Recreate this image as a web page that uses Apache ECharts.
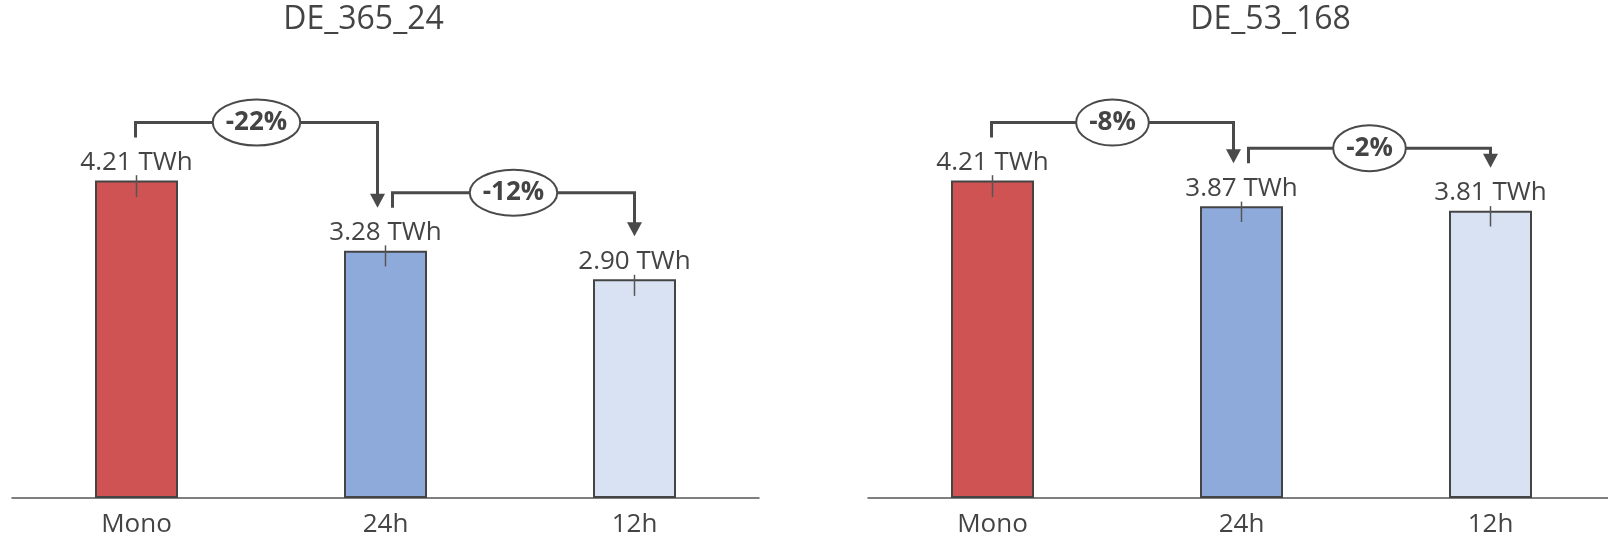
<!DOCTYPE html>
<html>
<head>
<meta charset="utf-8">
<script src="https://cdn.jsdelivr.net/npm/echarts@6/dist/echarts.min.js"></script>
<style>
  html, body { margin: 0; padding: 0; background: #fff; }
  #chart { width: 1608px; height: 536px; }
</style>
</head>
<body>
<div id="chart"></div>
<script>
// Scenario categories and panel titles
const categories = ['Mono', '24h', '12h'];
const titles = ['DE_365_24', 'DE_53_168'];

// Energy per scenario (TWh)
const energyA = [4.21, 3.28, 2.90];
const energyB = [4.21, 3.87, 3.81];

// Asymmetric error bars (TWh above / below the bar top)
const errUpA = [0.07, 0.07, 0.06];
const errDownA = [0.22, 0.21, 0.22];
const errUpB = [0.07, 0.06, 0.06];
const errDownB = [0.22, 0.21, 0.21];

// Step-change annotations: [from index, to index] and their labels
const stepsA = [[0, 1], [1, 2]];
const stepLabelsA = ['-22%', '-12%'];
const stepsB = [[0, 1], [1, 2]];
const stepLabelsB = ['-8%', '-2%'];

const barColors = ['#d05353', '#8eaadb', '#d9e2f3'];
const TEXT = '#444';
const LINE = '#4a4a4a';
const FONT = '"Open Sans", sans-serif';
const BADGE_FONT = 'bold 26px ' + FONT;

const measureCtx = document.createElement('canvas').getContext('2d');
function textWidth(text, font) {
  measureCtx.font = font;
  return measureCtx.measureText(text).width;
}

function errorBarRenderer(params, api) {
  const i = api.value(0), v = api.value(1), up = api.value(2), down = api.value(3);
  const top = api.coord([i, v + up]);
  const bottom = api.coord([i, v - down]);
  return {
    type: 'line',
    shape: { x1: top[0], y1: top[1], x2: bottom[0], y2: bottom[1] },
    style: { stroke: '#555', lineWidth: 1.5 }
  };
}

function stepRenderer(values, steps, labels) {
  const incoming = new Set(steps.map(s => s[1]));
  const outgoing = new Set(steps.map(s => s[0]));
  return function (params, api) {
    const from = steps[params.dataIndex][0];
    const to = steps[params.dataIndex][1];
    const p0 = api.coord([from, values[from]]);
    const p1 = api.coord([to, values[to]]);
    const x0 = p0[0] + (incoming.has(from) ? 7 : -1);
    const x1 = p1[0] - (outgoing.has(to) ? 8 : 0);
    const y0 = p0[1] - 43, yh = p0[1] - 58, y1 = p1[1] - 43;
    const ah = 14, aw = 7.5;
    const text = labels[params.dataIndex];
    const tw = textWidth(text, BADGE_FONT);
    const cx = (x0 + x1) / 2;
    return {
      type: 'group',
      children: [
        { type: 'polyline',
          shape: { points: [[x0, y0], [x0, yh], [x1, yh], [x1, y1 - ah + 1]] },
          style: { stroke: LINE, lineWidth: 3, fill: 'none' } },
        { type: 'polygon',
          shape: { points: [[x1 - aw, y1 - ah], [x1 + aw, y1 - ah], [x1, y1]] },
          style: { fill: LINE } },
        { type: 'ellipse',
          shape: { cx: cx, cy: yh, rx: tw / 2 + 13, ry: 23 },
          style: { fill: '#fff', stroke: LINE, lineWidth: 2 } },
        { type: 'text', x: cx, y: yh,
          style: { text: text, fill: TEXT, font: BADGE_FONT, align: 'center', verticalAlign: 'middle' } }
      ]
    };
  };
}

const grids = [], xAxes = [], yAxes = [], series = [];
function addPanel(idx, left, values, errUp, errDown, steps, stepLabels) {
  grids.push({ left: left, width: 747, top: 83.2, bottom: 38, outerBoundsMode: 'none', containLabel: false });
  xAxes.push({
    type: 'category', gridIndex: idx, data: categories,
    axisTick: { show: false },
    axisLine: { lineStyle: { color: '#555', width: 1.5 } },
    axisLabel: { fontSize: 26, color: TEXT, margin: 14, fontFamily: FONT }
  });
  yAxes.push({ type: 'value', gridIndex: idx, min: 0, max: 5.5, show: false });
  series.push({
    type: 'bar', xAxisIndex: idx, yAxisIndex: idx, barWidth: 83,
    data: values.map((v, i) => ({ value: v, itemStyle: { color: barColors[i] } })),
    itemStyle: { borderColor: '#444', borderWidth: 2 },
    label: {
      show: true, position: 'top', distance: 5,
      fontSize: 26, color: TEXT, fontFamily: FONT,
      formatter: p => p.value.toFixed(2) + ' TWh'
    },
    z: 2
  });
  series.push({
    type: 'custom', xAxisIndex: idx, yAxisIndex: idx,
    renderItem: errorBarRenderer,
    data: values.map((v, i) => [i, v, errUp[i], errDown[i]]),
    z: 3
  });
  series.push({
    type: 'custom', xAxisIndex: idx, yAxisIndex: idx,
    renderItem: stepRenderer(values, steps, stepLabels),
    data: steps.map(s => [s[0], values[s[0]]]),
    z: 4
  });
}

addPanel(0, 12, energyA, errUpA, errDownA, stepsA, stepLabelsA);
addPanel(1, 868, energyB, errUpB, errDownB, stepsB, stepLabelsB);

const chart = echarts.init(document.getElementById('chart'));
chart.setOption({
  animation: false,
  textStyle: { fontFamily: FONT },
  graphic: [
    { type: 'text', x: 363.5, y: 19.5,
      style: { text: titles[0], font: '32px ' + FONT, fill: TEXT, align: 'center', verticalAlign: 'middle' } },
    { type: 'text', x: 1270.6, y: 19.5,
      style: { text: titles[1], font: '32px ' + FONT, fill: TEXT, align: 'center', verticalAlign: 'middle' } }
  ],
  grid: grids,
  xAxis: xAxes,
  yAxis: yAxes,
  series: series
});
</script>
</body>
</html>
